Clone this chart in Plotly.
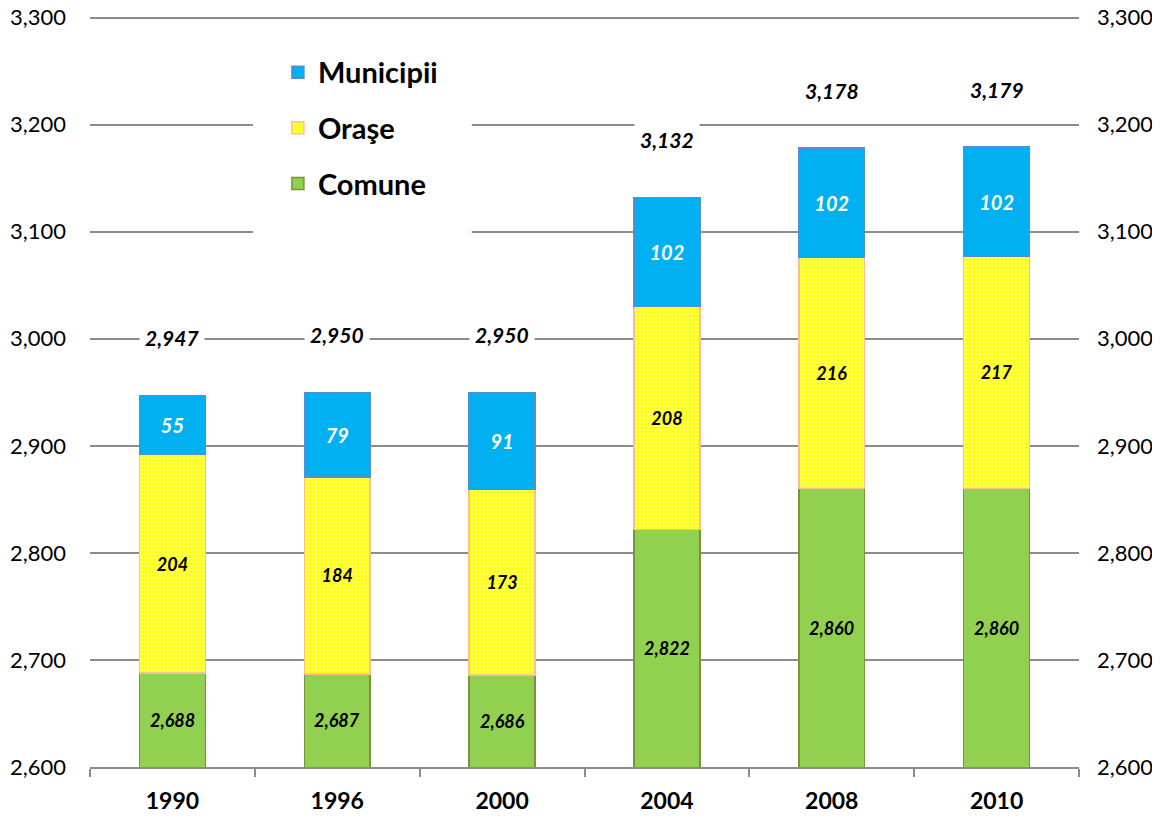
import plotly.graph_objects as go

years = ["1990", "1996", "2000", "2004", "2008", "2010"]
comune = [2688, 2687, 2686, 2822, 2860, 2860]
orase = [204, 184, 173, 208, 216, 217]
municipii = [55, 79, 91, 102, 102, 102]
totals = [2947, 2950, 2950, 3132, 3178, 3179]

Y_MIN, Y_MAX, Y_STEP = 2600, 3300, 100
Y_RANGE = [Y_MIN, Y_MAX + 1.5]  # small pad so the top gridline/label is kept

FONT = "Lato"
GRID = "#8c8c8c"
LBL = dict(family=FONT, color="black", weight="bold", style="italic")

fig = go.Figure()

fig.add_trace(go.Bar(
    x=years, y=comune, name="Comune", legendgroup="c", legendrank=3,
    marker=dict(color="#92D050", line=dict(color="#77933C", width=1.5)),
    hoverinfo="x+y+name",
))
fig.add_trace(go.Bar(
    x=years, y=orase, name="Oraşe", legendgroup="o", legendrank=2,
    marker=dict(color="#FFFF00", line=dict(color="#FAC090", width=1.5),
                pattern=dict(shape="+", fillmode="replace", bgcolor="#FFFF00",
                             fgcolor="#FFFFC8", size=4, solidity=0.25)),
    texttemplate="%{y:,}", textposition="inside", insidetextanchor="middle",
    textangle=0, textfont=dict(LBL, size=18),
))
fig.add_trace(go.Bar(
    x=years, y=municipii, name="Municipii", legendgroup="m", legendrank=1,
    marker=dict(color="#00B0F0", line=dict(color="#558ED5", width=1.5)),
    texttemplate="%{y:,}", textposition="inside", insidetextanchor="middle",
    textangle=0, textfont=dict(LBL, size=20, color="white"),
))
# invisible trace so the mirrored right-hand axis is drawn
fig.add_trace(go.Scatter(
    x=years, y=totals, yaxis="y2", mode="markers", marker=dict(opacity=0),
    showlegend=False, hoverinfo="skip",
))

# Comune labels centred in the visible part of the bar
for i, c in enumerate(comune):
    fig.add_annotation(x=i, y=(c + Y_MIN) / 2, text=f"{c:,}", showarrow=False,
                       font=dict(LBL, size=18))

# Totals above bars
for i, t in enumerate(totals):
    fig.add_annotation(x=i, y=t, yshift=58, text=f"{t:,}", showarrow=False,
                       bgcolor="white", borderpad=5,
                       font=dict(LBL, size=21))

# white box behind legend
fig.add_shape(type="rect", xref="paper", yref="paper", x0=0.1648, x1=0.386,
              y0=0.69, y1=0.967, fillcolor="white", line=dict(width=0), layer="above")

fig.update_layout(
    width=1144, height=802,
    margin=dict(l=82, r=73, t=8.4, b=43),
    barmode="stack", bargap=0.6,
    plot_bgcolor="white", paper_bgcolor="white",
    font=dict(family=FONT, size=20, color="black"),
    showlegend=True,
    legend=dict(x=0.19, y=0.959, xanchor="left", yanchor="top",
                traceorder="grouped", tracegroupgap=15,
                font=dict(family=FONT, size=29, color="black", weight="bold"),
                bgcolor="rgba(0,0,0,0)"),
    xaxis=dict(type="category", range=[-0.5, len(years) - 0.5], automargin=False,
               showline=True, linecolor=GRID, linewidth=1.5,
               ticks="outside", tickson="boundaries", ticklen=8, tickcolor=GRID,
               tickwidth=1.5, ticklabelstandoff=13, tickangle=0,
               ticklabeloverflow="allow",
               tickfont=dict(family=FONT, size=23, color="black", weight="bold")),
    yaxis=dict(range=Y_RANGE, dtick=Y_STEP, tick0=Y_MIN, tickformat=",", showgrid=True,
               gridcolor=GRID, gridwidth=1.5, showline=False, zeroline=False,
               ticks="", ticklabelstandoff=23, automargin=False,
               ticklabeloverflow="allow",
               tickfont=dict(family=FONT, size=22, color="black")),
    yaxis2=dict(range=Y_RANGE, dtick=Y_STEP, tick0=Y_MIN, tickformat=",", overlaying="y",
                side="right", showgrid=False, showline=False, zeroline=False,
                ticks="", ticklabelstandoff=17, automargin=False,
                ticklabeloverflow="allow",
                tickfont=dict(family=FONT, size=22, color="black")),
)

fig.write_html("out.html")
